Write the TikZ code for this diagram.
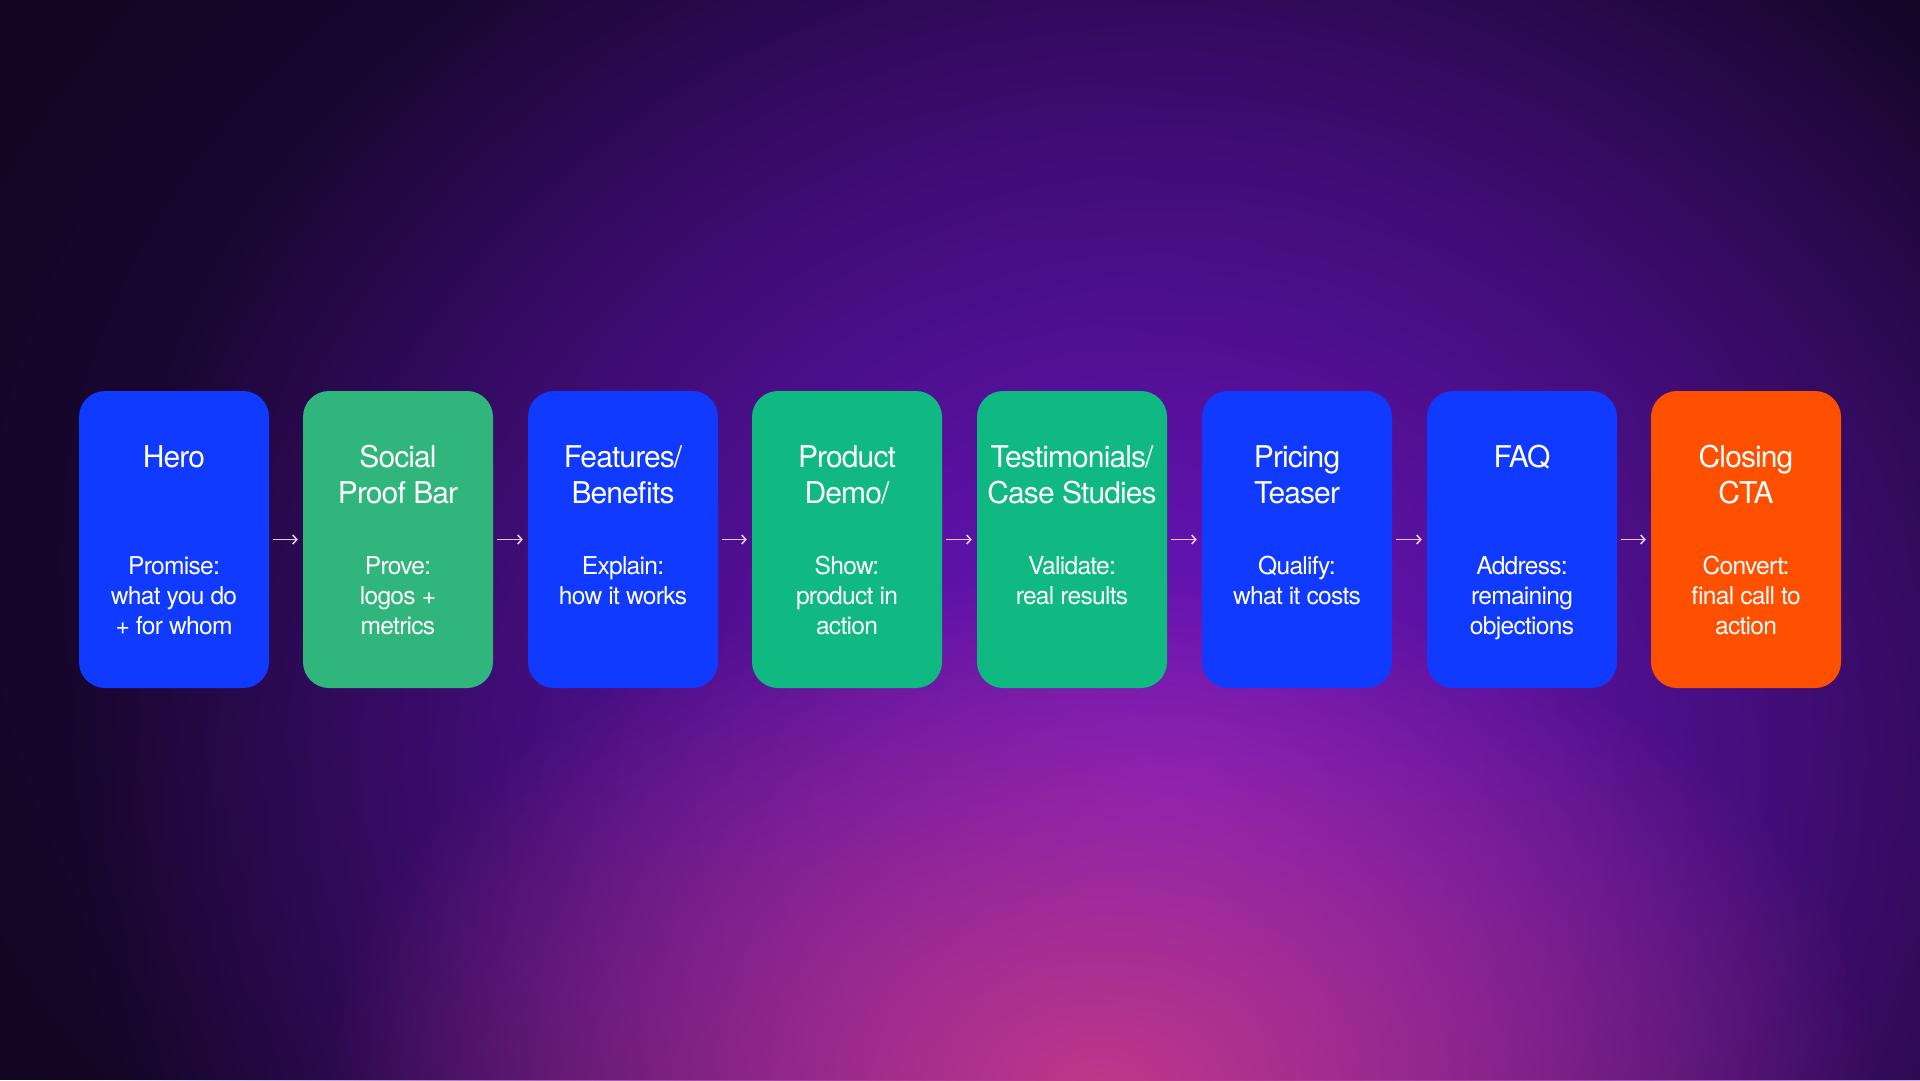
\documentclass[tikz,border=0pt]{standalone}
\usepackage{fontspec}
\setmainfont[LetterSpace=-3]{TeX Gyre Heros}
\usepackage{tikz}
\usetikzlibrary{arrows.meta,fadings}
\definecolor{backColor}{RGB}{19,6,34}
\definecolor{glowPurple}{RGB}{114,22,198}
\definecolor{glowPink}{RGB}{192,56,138}
\definecolor{glowDeep}{RGB}{46,10,98}
\definecolor{stageBlue}{RGB}{16,58,255}
\definecolor{stageGreen}{RGB}{48,181,125}
\definecolor{stageTeal}{RGB}{16,185,129}
\definecolor{stageOrange}{RGB}{255,80,0}
\definecolor{arrowColor}{RGB}{222,200,238}
\tikzfading[name=glowFade, inner color=transparent!0, outer color=transparent!100]
\tikzstyle{slide} = [x = 1pt, y = -1pt]
\tikzstyle{stageBox} = [draw=none, rounded corners = 26pt, minimum width = 190pt, minimum height = 297pt, inner sep = 0pt]
\tikzstyle{titleText} = [text=white, align=center, anchor=north, inner sep=0pt, font=\fontsize{30}{36}\selectfont]
\tikzstyle{bodyText} = [text=white, align=center, anchor=north, inner sep=0pt, font=\fontsize{24.6}{30}\selectfont]
\tikzstyle{flowArrow} = [color=arrowColor, line width=1.6pt, -{Straight Barb[length=4pt,width=9pt]}, shorten <= 4pt, shorten >= 5pt]
\newcommand{\stage}[5]{
  \node [stageBox, fill=#3] (#1) at (#2, 539.5) {};
  \node [titleText] (#1Title) at (#2, 441.8) {\strut#4};
  \node [bodyText] (#1Body) at (#2, 553) {\strut#5};
}

\begin{document}
\begin{tikzpicture}[slide]
  \useasboundingbox (0,0) rectangle (1920,1080);
  \fill [backColor] (0,0) rectangle (1920,1080);
  \fill [glowDeep, path fading=glowFade] (1060,560) ellipse (1200 and 950);
  \fill [glowPurple, path fading=glowFade] (1170,800) ellipse (1100 and 1050);
  \fill [glowPink, path fading=glowFade] (1100,1090) ellipse (780 and 520);
  \stage{hero}{174}{stageBlue}{Hero}{Promise:\\what you do\\+ for whom}
  \stage{proof}{398}{stageGreen}{Social\\Proof Bar}{Prove:\\logos +\\metrics}
  \stage{features}{623}{stageBlue}{Features/\\Benefits}{Explain:\\how it works}
  \stage{demo}{847}{stageTeal}{Product\\Demo/}{Show:\\product in\\action}
  \stage{proofs}{1072}{stageTeal}{Testimonials/\\Case Studies}{Validate:\\real results}
  \stage{pricing}{1297}{stageBlue}{Pricing\\Teaser}{Qualify:\\what it costs}
  \stage{faq}{1522}{stageBlue}{FAQ}{Address:\\remaining\\objections}
  \stage{closing}{1746}{stageOrange}{Closing\\CTA}{Convert:\\final call to\\action}
  \foreach \from/\to in {hero/proof, proof/features, features/demo, demo/proofs, proofs/pricing, pricing/faq, faq/closing}
    \draw [flowArrow] (\from.east) -- (\to.west);
\end{tikzpicture}
\end{document}
